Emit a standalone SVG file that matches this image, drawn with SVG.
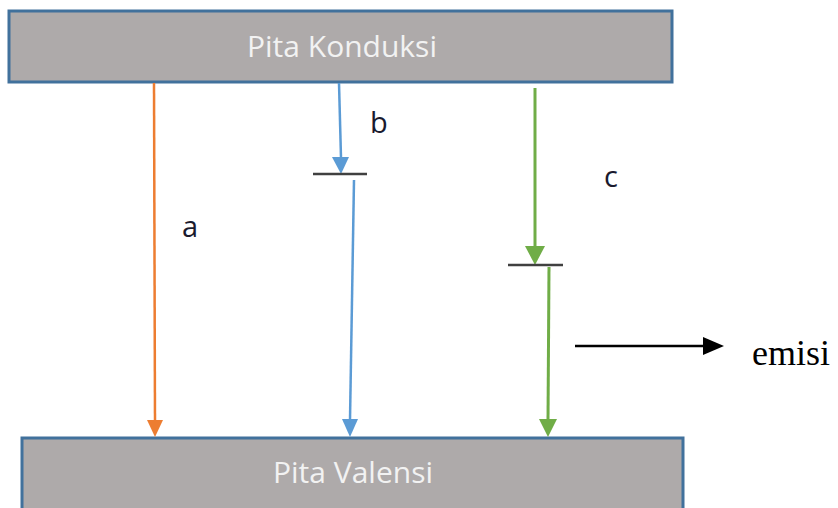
<svg xmlns="http://www.w3.org/2000/svg" width="838" height="508" viewBox="0 0 838 508">
<style>
.band{fill:#aeaaaa;stroke:#41719c;stroke-width:3}
.bt{font-family:"Open Sans","Liberation Sans",sans-serif;font-size:30px;fill:#f2f2f2;text-anchor:middle}
.lbl{font-family:"Open Sans","Liberation Sans",sans-serif;font-size:29px;fill:#1a1a2e}
.em{font-family:"Liberation Serif",serif;font-size:36px;fill:#000}
.bar{stroke:#404040;stroke-width:2.5}
</style>
<g id="konduksi"><rect class="band" x="9" y="11" width="663" height="71"/><text class="bt" x="342" y="57">Pita Konduksi</text></g>
<g id="valensi"><rect class="band" x="22" y="438" width="661" height="80"/><text class="bt" x="353" y="483">Pita Valensi</text></g>
<g id="connectors">
<line x1="154" y1="83" x2="155" y2="424" stroke="#ed7d31" stroke-width="2.5"/>
<path d="M147,420 L163,420 L155,437 Z" fill="#ed7d31"/>
<line x1="339" y1="83" x2="341" y2="158" stroke="#5b9bd5" stroke-width="2.5"/>
<path d="M332,157 L349,157 L341,174 Z" fill="#5b9bd5"/>
<line class="bar" x1="313" y1="174" x2="367" y2="174"/>
<line x1="354" y1="180" x2="350" y2="420" stroke="#5b9bd5" stroke-width="2.5"/>
<path d="M342,419 L358,419 L350,437 Z" fill="#5b9bd5"/>
<line x1="535" y1="88" x2="535" y2="248" stroke="#70ad47" stroke-width="3"/>
<path d="M525,246 L545,246 L535,265 Z" fill="#70ad47"/>
<line class="bar" x1="508" y1="265" x2="563" y2="265"/>
<line x1="549" y1="267" x2="548" y2="420" stroke="#70ad47" stroke-width="3"/>
<path d="M539,419 L557,419 L548,437 Z" fill="#70ad47"/>
<line x1="575" y1="346" x2="706" y2="346" stroke="#000" stroke-width="2.5"/>
<path d="M703,337 L724,346 L703,355 Z" fill="#000"/>
</g>
<g id="labels">
<text class="lbl" x="182" y="237">a</text>
<text class="lbl" x="370" y="133">b</text>
<text class="lbl" x="604" y="187">c</text>
<text class="em" x="752" y="365">emisi</text>
</g>
</svg>
